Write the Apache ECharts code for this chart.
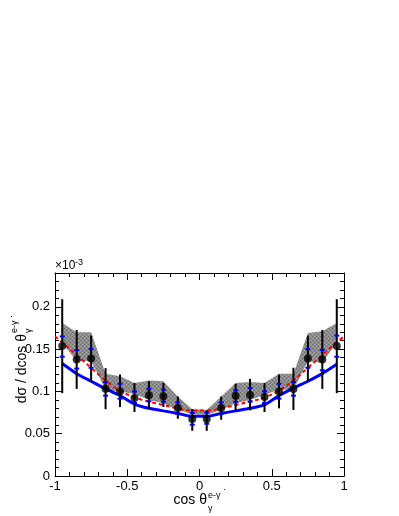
<!DOCTYPE html>
<html>
<head>
<meta charset="utf-8">
<script src="https://cdn.jsdelivr.net/npm/echarts@6/dist/echarts.min.js"></script>
<style>
  html, body { margin: 0; padding: 0; background: #fff; }
  #chart { width: 399px; height: 516px; }
</style>
</head>
<body>
<div id="chart"></div>
<script>
// bin centres of cos theta
const binX = [-0.95, -0.85, -0.75, -0.65, -0.55, -0.45, -0.35, -0.25, -0.15, -0.05,
  0.05, 0.15, 0.25, 0.35, 0.45, 0.55, 0.65, 0.75, 0.85, 0.95];
// measured points (x10^-3)
const dataY = [0.1536, 0.1378, 0.139, 0.1033, 0.100, 0.0922, 0.0954, 0.0942, 0.0804, 0.0673,
  0.0673, 0.0804, 0.095, 0.0958, 0.0934, 0.100, 0.103, 0.139, 0.1378, 0.1536];
// total error bar ends
const errHigh = [0.209, 0.1726, 0.166, 0.1275, 0.120, 0.110, 0.112, 0.110, 0.094, 0.079,
  0.0776, 0.094, 0.109, 0.1148, 0.110, 0.120, 0.128, 0.166, 0.1726, 0.209];
const errLow = [0.098, 0.103, 0.112, 0.079, 0.0815, 0.0756, 0.0796, 0.0816, 0.0677, 0.0534,
  0.0534, 0.0665, 0.0776, 0.0776, 0.0756, 0.080, 0.078, 0.112, 0.103, 0.098];
// blue (stat) error ends
const statHigh = [0.165, 0.149, 0.150, 0.111, 0.109, 0.100, 0.103, 0.102, 0.087, 0.0744,
  0.075, 0.087, 0.1013, 0.104, 0.100, 0.109, 0.111, 0.150, 0.149, 0.166];
const statLow = [0.141, 0.127, 0.128, 0.095, 0.0914, 0.0863, 0.0883, 0.088, 0.0736, 0.0606,
  0.0618, 0.0736, 0.0875, 0.088, 0.0863, 0.0914, 0.095, 0.128, 0.125, 0.141];
// grey band
const bandUp = [0.181, 0.170, 0.170, 0.121, 0.118, 0.110, 0.113, 0.112, 0.094, 0.079,
  0.078, 0.094, 0.110, 0.111, 0.110, 0.121, 0.121, 0.169, 0.171, 0.181];
const bandLow = [0.157, 0.136, 0.136, 0.102, 0.100, 0.097, 0.090, 0.086, 0.078, 0.073,
  0.0724, 0.078, 0.086, 0.090, 0.096, 0.102, 0.102, 0.136, 0.134, 0.158];
// red dashed curve
const redX = [-1, -0.95, -0.85, -0.75, -0.65, -0.55, -0.45, -0.35, -0.25, -0.15, -0.05,
  0.05, 0.15, 0.25, 0.35, 0.45, 0.55, 0.65, 0.75, 0.85, 0.95, 1];
const redY = [0.165, 0.158, 0.143, 0.128, 0.113, 0.101, 0.093, 0.088, 0.084, 0.080, 0.0775,
  0.0775, 0.080, 0.084, 0.088, 0.093, 0.101, 0.113, 0.128, 0.143, 0.158, 0.165];
// blue solid curve
const blueY = [0.133, 0.121, 0.112, 0.103, 0.095, 0.085, 0.080, 0.077, 0.074, 0.0705,
  0.0705, 0.074, 0.077, 0.080, 0.084, 0.095, 0.104, 0.112, 0.121, 0.132];
const xTicks = [-1, -0.5, 0, 0.5, 1];
const yTicks = [0, 0.05, 0.1, 0.15, 0.2];

// soft stippled grey fill like the ROOT pattern
const pat = document.createElement('canvas');
pat.width = 4; pat.height = 4;
const pc = pat.getContext('2d');
pc.fillStyle = '#8c8c8c'; pc.fillRect(0, 0, 4, 4);
pc.fillStyle = '#6c6c6c';
pc.fillRect(0, 0, 1, 1); pc.fillRect(2, 2, 1, 1);
pc.fillStyle = '#a8a8a8';
pc.fillRect(2, 0, 1, 1); pc.fillRect(0, 2, 1, 1);

const chart = echarts.init(document.getElementById('chart'), null, { renderer: 'canvas' });

const tickFont = { color: '#000', fontSize: 13, fontFamily: 'Liberation Sans' };

function baseAxis(extra) {
  return Object.assign({
    type: 'value',
    axisLine: { show: true, onZero: false, lineStyle: { color: '#000', width: 1 } },
    axisTick: { show: true, inside: true, length: 7, lineStyle: { color: '#000' } },
    minorTick: { show: true, splitNumber: 5, length: 4, lineStyle: { color: '#000' } },
    splitLine: { show: false },
    minorSplitLine: { show: false }
  }, extra);
}

chart.setOption({
  animation: false,
  grid: { left: 55, right: 55, top: 273, bottom: 40, show: false },
  xAxis: [
    baseAxis({ min: -1, max: 1, interval: 0.5, position: 'bottom',
      axisLabel: Object.assign({ margin: 4, formatter: v => xTicks.includes(v) ? String(v) : '' }, tickFont) }),
    baseAxis({ min: -1, max: 1, interval: 0.5, position: 'top', axisLabel: { show: false } })
  ],
  yAxis: [
    baseAxis({ min: 0, max: 0.24, interval: 0.05, position: 'left',
      axisLabel: Object.assign({ margin: 5,
        formatter: v => yTicks.some(t => Math.abs(t - v) < 1e-9) ? String(+v.toFixed(2)) : '' }, tickFont) }),
    baseAxis({ min: 0, max: 0.24, interval: 0.05, position: 'right', axisLabel: { show: false } })
  ],
  series: [
    {
      type: 'custom',
      name: 'band',
      data: [0],
      z: 1,
      renderItem: function (params, api) {
        const pts = [];
        for (let i = 0; i < binX.length; i++) pts.push(api.coord([binX[i], bandUp[i]]));
        for (let i = binX.length - 1; i >= 0; i--) pts.push(api.coord([binX[i], bandLow[i]]));
        return { type: 'polygon', shape: { points: pts }, style: { fill: { image: pat, repeat: 'repeat' }, stroke: null } };
      }
    },
    {
      type: 'line',
      name: 'red',
      data: redX.map((x, i) => [x, redY[i]]),
      smooth: true,
      symbol: 'none',
      z: 3,
      lineStyle: { color: '#ff0000', width: 2, type: [4, 3] }
    },
    {
      type: 'line',
      name: 'blue',
      data: binX.map((x, i) => [x, blueY[i]]),
      smooth: 0.2,
      symbol: 'none',
      z: 4,
      lineStyle: { color: '#0000ff', width: 3 }
    },
    {
      type: 'custom',
      name: 'errors',
      z: 5,
      data: binX.map((x, i) => [x, errLow[i], errHigh[i], statLow[i], statHigh[i]]),
      renderItem: function (params, api) {
        const x = api.value(0);
        const lo = api.coord([x, api.value(1)]);
        const hi = api.coord([x, api.value(2)]);
        const sl = api.coord([x, api.value(3)]);
        const sh = api.coord([x, api.value(4)]);
        return {
          type: 'group',
          children: [
            { type: 'line', shape: { x1: lo[0], y1: lo[1], x2: hi[0], y2: hi[1] }, style: { stroke: '#000', lineWidth: 2 } },
            { type: 'rect', shape: { x: sl[0] - 2.5, y: sl[1] - 1, width: 5, height: 2 }, style: { fill: '#0000ff' } },
            { type: 'rect', shape: { x: sh[0] - 2.5, y: sh[1] - 1, width: 5, height: 2 }, style: { fill: '#0000ff' } }
          ]
        };
      }
    },
    {
      type: 'scatter',
      name: 'data',
      z: 6,
      data: binX.map((x, i) => [x, dataY[i]]),
      symbol: 'circle',
      symbolSize: 8,
      itemStyle: { color: '#000' }
    }
  ],
  graphic: [
    { type: 'text', x: 55, y: 272, style: { text: '×10', fontSize: 12, fontFamily: 'Liberation Sans', fill: '#000', verticalAlign: 'bottom' } },
    { type: 'text', x: 75, y: 267, style: { text: '-3', fontSize: 9, fontFamily: 'Liberation Sans', fill: '#000', verticalAlign: 'bottom' } },
    // y title, rotated
    { type: 'text', x: 22, y: 334, rotation: Math.PI / 2,
      style: { text: 'dσ / dcos θ', fontSize: 14, fontFamily: 'Liberation Sans', fill: '#000', align: 'right', verticalAlign: 'middle' } },
    { type: 'text', x: 15, y: 333, rotation: Math.PI / 2,
      style: { text: 'e-γ', fontSize: 9, fontFamily: 'Liberation Sans', fill: '#000', align: 'left', verticalAlign: 'middle' } },
    { type: 'text', x: 29, y: 333, rotation: Math.PI / 2,
      style: { text: 'γ', fontSize: 9, fontFamily: 'Liberation Sans', fill: '#000', align: 'left', verticalAlign: 'middle' } },
    { type: 'text', x: 12, y: 318, rotation: Math.PI / 2,
      style: { text: '·', fontSize: 9, fontFamily: 'Liberation Sans', fill: '#000', align: 'left', verticalAlign: 'middle' } },
    // x title
    { type: 'text', x: 207, y: 507, style: { text: 'cos θ', fontSize: 14, fontFamily: 'Liberation Sans', fill: '#000', align: 'right', verticalAlign: 'bottom' } },
    { type: 'text', x: 208, y: 500, style: { text: 'e-γ', fontSize: 9, fontFamily: 'Liberation Sans', fill: '#000', align: 'left', verticalAlign: 'bottom' } },
    { type: 'text', x: 208, y: 513, style: { text: 'γ', fontSize: 9, fontFamily: 'Liberation Sans', fill: '#000', align: 'left', verticalAlign: 'bottom' } },
    { type: 'text', x: 223, y: 494, style: { text: '·', fontSize: 9, fontFamily: 'Liberation Sans', fill: '#000', align: 'left', verticalAlign: 'bottom' } }
  ]
});
</script>
</body>
</html>
